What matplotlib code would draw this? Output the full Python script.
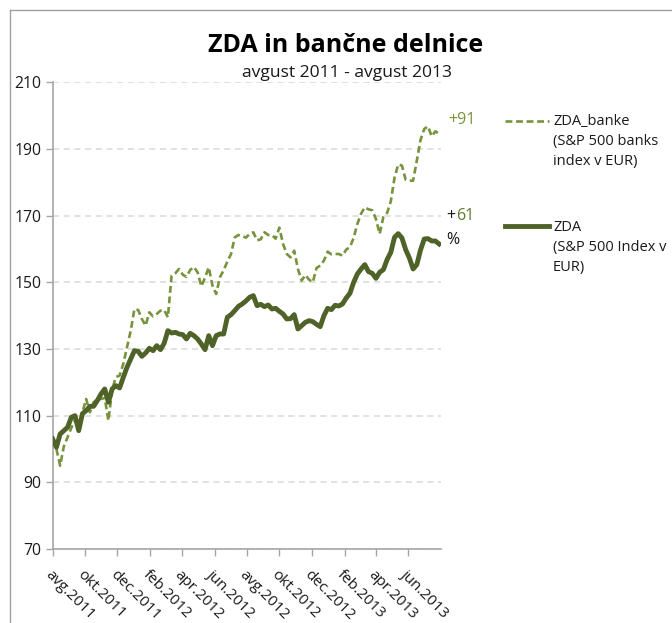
import matplotlib
matplotlib.use("Agg")
import matplotlib.pyplot as plt
from matplotlib.lines import Line2D
import pandas as pd

# ---------------- data ----------------
start_date = "2011-08-01"
n_weeks = 105
zda_banke = [103, 100, 95, 100.8, 103.5, 106.3, 108.7, 106, 111, 115,
             111, 114, 115, 115, 115.3, 108.5, 117.8, 121.6, 122, 125.5,
             130.5, 135.5, 142, 141.7, 139, 137, 141, 139.8, 140.5, 141.5,
             141.7, 139.5, 152, 152.7, 154, 152.3, 151.6, 153.7, 154.6, 153,
             148.8, 151.4, 154.5, 149, 146.5, 151.5, 153.6, 156.2, 158.5, 163.5,
             164.2, 163.9, 163.4, 164.5, 165, 162.6, 162.9, 165, 164.2, 164.2,
             163.1, 166.4, 161.5, 158.5, 157.5, 159.5, 154, 150.5, 152.2, 150.8,
             150, 154.3, 155, 156.5, 159.2, 158.4, 158.5, 158.5, 158, 159.8,
             160.6, 163.3, 167.5, 170.6, 172.5, 171.9, 171.6, 169, 164.5, 169.6,
             170.8, 174.3, 181.4, 185.4, 185, 180.8, 180.5, 180.5, 186.5, 192.7,
             196, 196.8, 193.8, 195.3, 194.5]
zda = [103, 100.5, 104.5, 105.5, 106.5, 109.5, 110, 105.5, 110.6, 111.5,
       112.8, 112.8, 114.5, 116.5, 118, 114, 118, 119, 118.3, 121.5,
       124.5, 127, 129.5, 129.3, 127.8, 128.8, 130.2, 129.5, 131, 129.8,
       131.7, 135.5, 134.8, 135, 134.5, 134.3, 133, 134.7, 134, 133,
       131.5, 129.8, 134, 131, 134, 134.5, 134.5, 139.5, 140.3, 141.5,
       142.8, 143.5, 144.4, 145.5, 146, 143, 143.4, 142.7, 143.2, 142,
       142.2, 141.3, 140.5, 139, 139.1, 140.3, 136, 137, 138, 138.5,
       138.2, 137.4, 136.7, 140, 142.2, 141.8, 143.1, 142.9, 143.5, 145.3,
       146.7, 150, 152.5, 154, 155.3, 153.2, 152.7, 151.2, 153, 153.8,
       156.8, 159, 163.5, 164.6, 163.3, 159.8, 157.3, 154, 155.3, 159.7,
       163, 163.1, 162.4, 162.4, 161.5]
series_names = ["ZDA_banke\n(S&P 500 banks\nindex v EUR)", "ZDA\n(S&P 500 Index v\nEUR)"]
title = "ZDA in bančne delnice"
subtitle = "avgust 2011 - avgust 2013"
month_names = ["jan", "feb", "mar", "apr", "maj", "jun", "jul", "avg", "sep", "okt", "nov", "dec"]
y_ticks = [70, 90, 110, 130, 150, 170, 190, 210]
end_labels = ["+91", "+61", "%"]

dates = pd.date_range(start_date, periods=n_weeks, freq="7D")

# ---------------- style ----------------
W, H = 672, 623
FONT = ["Open Sans", "DejaVu Sans"]
plt.rcParams["font.family"] = FONT
C_LIGHT = "#77933C"
C_DARK = "#4F6228"
C_TXT = "#1a1a1a"
C_AX = "#a6a6a6"
FS_YTICK = 11.3
FS_XTICK = 11.0
FS_LEG = 10.5
FS_END = 11.5

fig = plt.figure(figsize=(W / 100, H / 100), dpi=100)

def fx(px):
    return px / W

def fy(py):
    return 1 - py / H

ax = fig.add_axes([fx(52.7), fy(549), fx(440.7) - fx(52.7), fy(82.3) - fy(549)])

ax.plot(dates, zda_banke, color=C_LIGHT, lw=1.9, ls=(0, (2.6, 1.4)), zorder=3)
ax.plot(dates, zda, color=C_DARK, lw=3.5, solid_joinstyle="round", zorder=4)

ax.set_ylim(70, 210)
ax.set_yticks(y_ticks)
ax.set_xlim(pd.Timestamp("2011-08-01"), pd.Timestamp("2013-08-01"))
tick_dates = pd.date_range("2011-08-01", "2013-06-01", freq="2MS")
ax.set_xticks(tick_dates)
ax.set_xticklabels([f"{month_names[d.month - 1]}.{d.year}" for d in tick_dates],
                   rotation=-45, ha="left", va="top", rotation_mode="anchor",
                   fontsize=FS_XTICK, color=C_TXT)
ax.tick_params(axis="x", length=5, width=1, color=C_AX, pad=8)
ax.tick_params(axis="y", length=5, width=1, color=C_AX, labelsize=FS_YTICK,
               labelcolor=C_TXT, pad=3)

for s in ["top", "right"]:
    ax.spines[s].set_visible(False)
for s in ["left", "bottom"]:
    ax.spines[s].set_color(C_AX)
    ax.spines[s].set_linewidth(1.2)

ax.grid(axis="y", color="#d9d9d9", ls=(0, (4, 3)), lw=1.1)
ax.set_axisbelow(True)

# title
fig.text(fx(346), fy(45), title, ha="center", va="center", fontsize=18,
         fontweight="bold", color="black")
fig.text(fx(347), fy(73), subtitle, ha="center", va="center", fontsize=12.6, color=C_TXT)

# end labels
fig.text(fx(448), fy(120), end_labels[0], ha="left", va="center", fontsize=FS_END, color=C_LIGHT)
fig.text(fx(446), fy(216), "+", ha="left", va="center", fontsize=FS_END, color=C_TXT)
fig.text(fx(456), fy(216), end_labels[1][1:], ha="left", va="center", fontsize=FS_END, color="#5E7B2C")
fig.text(fx(446), fy(240), end_labels[2], ha="left", va="center", fontsize=FS_END, color=C_TXT)

# legend
fig.add_artist(Line2D([fx(505), fx(549)], [fy(121), fy(121)], color=C_LIGHT, lw=1.9,
                      ls=(0, (2.6, 1.4))))
fig.add_artist(Line2D([fx(505), fx(549)], [fy(226), fy(226)], color=C_DARK, lw=3.5))
fig.text(fx(553), fy(114), series_names[0], ha="left", va="top", fontsize=FS_LEG,
         color=C_TXT, linespacing=1.45)
fig.text(fx(553), fy(220), series_names[1], ha="left", va="top", fontsize=FS_LEG,
         color=C_TXT, linespacing=1.45)

# outer frame
fig.add_artist(Line2D([fx(10), fx(10)], [fy(9.5), 0], color="#a0a0a0", lw=1))
fig.add_artist(Line2D([fx(10), 1], [fy(9.5), fy(9.5)], color="#a0a0a0", lw=1))

fig.savefig("out.png", dpi=100)
